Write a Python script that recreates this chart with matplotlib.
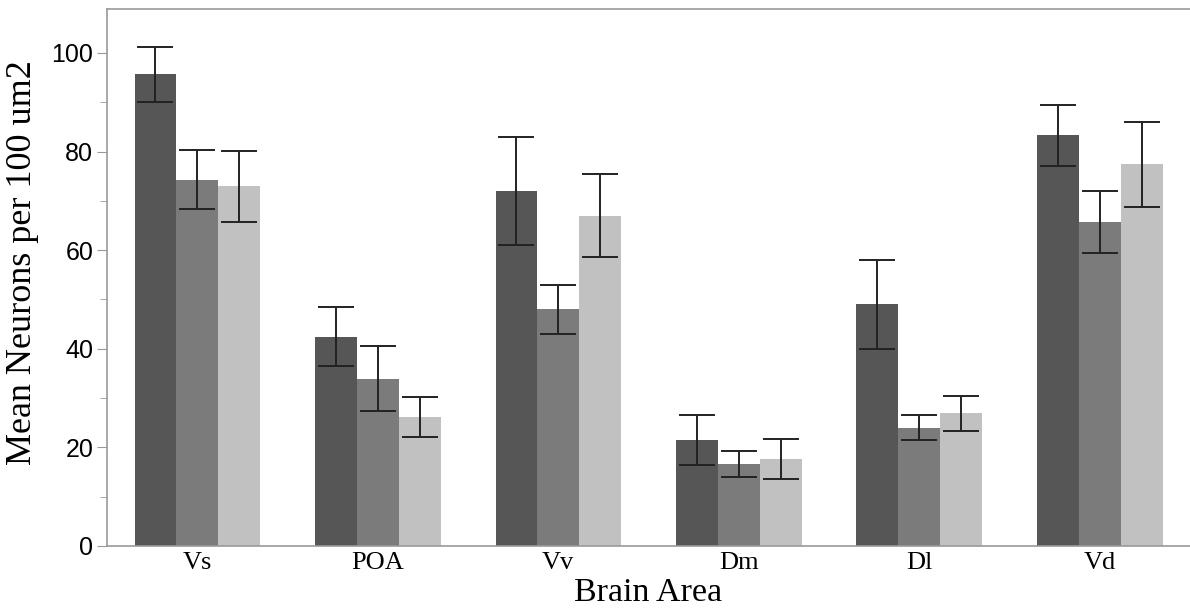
import numpy as np
import matplotlib.pyplot as plt
from matplotlib.ticker import MultipleLocator

# brain areas and group means / error half-widths
areas = ["Vs", "POA", "Vv", "Dm", "Dl", "Vd"]
group_a = [95.7, 42.4, 72.0, 21.5, 49.0, 83.3]
group_b = [74.3, 33.9, 48.0, 16.6, 24.0, 65.7]
group_c = [73.0, 26.1, 67.0, 17.6, 26.9, 77.4]
err_a = [5.6, 6.0, 11.0, 5.0, 9.0, 6.2]
err_b = [6.0, 6.6, 5.0, 2.6, 2.6, 6.3]
err_c = [7.2, 4.1, 8.4, 4.0, 3.6, 8.6]

colors = ["#565656", "#7b7b7b", "#c1c1c1"]
series = [(group_a, err_a), (group_b, err_b), (group_c, err_c)]

fig = plt.figure(figsize=(11.9, 6.1), dpi=100)
ax = fig.add_axes([0.09, 0.105, 0.91, 0.881])

x = np.arange(len(areas))
width = 0.232
for k, ((vals, errs), col) in enumerate(zip(series, colors)):
    pos = x + (k - 1) * width
    ax.bar(pos, vals, width=width, color=col, edgecolor="none", zorder=2)
    ax.errorbar(pos, vals, yerr=errs, fmt="none", ecolor="#222222",
                elinewidth=1.4, capsize=13, capthick=1.4, zorder=3)

ax.set_xlim(-0.5, 5.5)
ax.set_ylim(0, 109)
ax.yaxis.set_major_locator(MultipleLocator(20))
ax.yaxis.set_minor_locator(MultipleLocator(10))

ax.set_xticks(x)
ax.set_xticklabels(areas, family="Liberation Serif", fontsize=19)
ax.tick_params(axis="x", length=0, pad=4)
ax.tick_params(axis="y", which="major", length=7, color="#999999",
               labelsize=18, pad=3)
ax.tick_params(axis="y", which="minor", length=5, color="#999999")
for lab in ax.get_yticklabels():
    lab.set_family("Liberation Sans")

for side in ["left", "bottom", "top"]:
    ax.spines[side].set_color("#999999")
    ax.spines[side].set_linewidth(1.2)
ax.spines["right"].set_visible(False)

ax.set_ylabel("Mean Neurons per 100 um2", family="Liberation Serif",
              fontsize=26)
ax.set_xlabel("Brain Area", family="Liberation Serif", fontsize=24.5)
ax.yaxis.set_label_coords(-0.063, 0.527)
ax.xaxis.set_label_coords(0.5, -0.058)

fig.savefig("out.png", dpi=100)
